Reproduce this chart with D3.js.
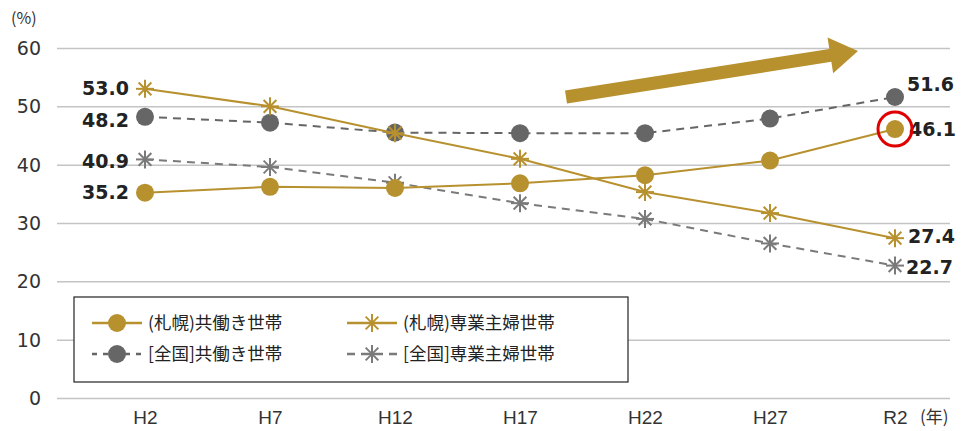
<!DOCTYPE html>
<html>
<head>
<meta charset="utf-8">
<script src="https://cdn.jsdelivr.net/npm/d3@7"></script>
<style>
  body { margin: 0; background: #fff; }
  text { font-family: "Noto Sans CJK JP", "Noto Sans", sans-serif; }
</style>
</head>
<body>
<div id="container"></div>
<script>
/* CONSTANTS AND GLOBALS */
const width = 961;
const height = 431;
const gold = "#b8912f";
const grayDot = "#666666";
const grayStar = "#7a7a7a";

/* DATA */
const years = ["H2", "H7", "H12", "H17", "H22", "H27", "R2"];
const sapporoDual = [35.2, 36.2, 36.0, 36.8, 38.2, 40.7, 46.1];
const sapporoHousewife = [53.0, 50.0, 45.4, 41.0, 35.3, 31.7, 27.4];
const nationDual = [48.2, 47.2, 45.5, 45.4, 45.4, 47.9, 51.6];
const nationHousewife = [40.9, 39.6, 36.9, 33.4, 30.7, 26.5, 22.7];
const yTicks = [0, 10, 20, 30, 40, 50, 60];
const legendNames = ["(札幌)共働き世帯", "(札幌)専業主婦世帯", "[全国]共働き世帯", "[全国]専業主婦世帯"];

const svg = d3.select("#container").append("svg")
  .attr("width", width)
  .attr("height", height);

/* SCALES */
const xScale = d3.scalePoint()
  .domain(years)
  .range([145, 895]);

const yScale = d3.scaleLinear()
  .domain([0, 60])
  .range([398, 48]);

/* GRID + Y AXIS */
const yAxis = d3.axisLeft(yScale)
  .tickValues(yTicks)
  .tickSize(-(950 - 57))
  .tickPadding(16);

svg.append("g")
  .attr("transform", "translate(57,0)")
  .call(yAxis)
  .call(g => g.select(".domain").remove())
  .call(g => g.selectAll(".tick line").attr("stroke", "#c4c4c4").attr("stroke-width", 1.5))
  .call(g => g.selectAll(".tick text")
    .attr("fill", "#333").attr("font-size", 19)
    .style("font-family", "'DejaVu Sans', sans-serif")
    .attr("x", -16).attr("dy", "0.35em"));

svg.append("text")
  .attr("x", 11).attr("y", 24)
  .attr("font-size", 16).attr("fill", "#333")
  .text("(%)");

/* X AXIS */
const xAxis = d3.axisBottom(xScale).tickSize(0).tickPadding(0);
svg.append("g")
  .attr("transform", "translate(0,424)")
  .call(xAxis)
  .call(g => g.select(".domain").remove())
  .call(g => g.selectAll(".tick text")
    .attr("fill", "#333").attr("font-size", 19)
    .style("font-family", "'Liberation Sans', sans-serif")
    .attr("y", 0).attr("dy", 0));

svg.append("text")
  .attr("x", 920).attr("y", 423)
  .attr("font-size", 17).attr("fill", "#333")
  .text("(年)");

/* ARROW */
const ax0 = 566, ay0 = 97, ax1 = 858, ay1 = 51;
const ang = Math.atan2(ay1 - ay0, ax1 - ax0) * 180 / Math.PI;
const alen = Math.hypot(ax1 - ax0, ay1 - ay0);
svg.append("path")
  .attr("transform", `translate(${ax0},${ay0}) rotate(${ang})`)
  .attr("d", `M0,-6.5 L${alen - 28},-6.5 L${alen - 28},-18 L${alen},0 L${alen - 28},18 L${alen - 28},6.5 L0,6.5 Z`)
  .attr("fill", gold);

/* LINES + MARKERS */
const line = d3.line()
  .x((d, i) => xScale(years[i]))
  .y(d => yScale(d));

function star(g, x, y, r, color) {
  for (let k = 0; k < 4; k++) {
    const a = k * Math.PI / 4;
    g.append("line")
      .attr("x1", x - r * Math.sin(a)).attr("y1", y - r * Math.cos(a))
      .attr("x2", x + r * Math.sin(a)).attr("y2", y + r * Math.cos(a))
      .attr("stroke", color).attr("stroke-width", 2);
  }
}

const series = [
  { values: nationDual, color: grayDot, dash: "8,6", marker: "circle" },
  { values: nationHousewife, color: grayStar, dash: "8,6", marker: "star" },
  { values: sapporoDual, color: gold, dash: null, marker: "circle" },
  { values: sapporoHousewife, color: gold, dash: null, marker: "star" }
];

series.forEach(s => {
  svg.append("path")
    .datum(s.values)
    .attr("d", line)
    .attr("fill", "none")
    .attr("stroke", s.color)
    .attr("stroke-width", 2)
    .attr("stroke-dasharray", s.dash);
  const g = svg.append("g");
  s.values.forEach((v, i) => {
    const x = xScale(years[i]), y = yScale(v);
    if (s.marker === "circle") {
      g.append("circle").attr("cx", x).attr("cy", y).attr("r", 9).attr("fill", s.color);
    } else {
      star(g, x, y, 9, s.color);
    }
  });
});

/* VALUE LABELS */
const labelStyle = sel => sel.attr("font-size", 19).attr("font-weight", "bold").attr("fill", "#222")
  .style("font-family", "'DejaVu Sans', sans-serif");
const leftLabels = [
  { v: sapporoHousewife[0], dy: 0 },
  { v: nationDual[0], dy: 4 },
  { v: nationHousewife[0], dy: 2 },
  { v: sapporoDual[0], dy: 0 }
];
leftLabels.forEach(d => {
  svg.append("text")
    .attr("x", xScale(years[0]) - 16).attr("y", yScale(d.v) + d.dy)
    .attr("dy", "0.35em").attr("text-anchor", "end")
    .call(labelStyle).text(d.v.toFixed(1));
});
const last = years.length - 1;
const rightLabels = [
  { v: nationDual[last], dy: -13, dx: 12 },
  { v: sapporoDual[last], dy: 0, dx: 14 },
  { v: sapporoHousewife[last], dy: -2, dx: 13 },
  { v: nationHousewife[last], dy: 2, dx: 11 }
];
rightLabels.forEach(d => {
  svg.append("text")
    .attr("x", xScale(years[last]) + d.dx).attr("y", yScale(d.v) + d.dy)
    .attr("dy", "0.35em")
    .call(labelStyle).text(d.v.toFixed(1));
});

/* RED HIGHLIGHT */
svg.append("circle")
  .attr("cx", xScale(years[last])).attr("cy", yScale(sapporoDual[last]))
  .attr("r", 17).attr("fill", "none")
  .attr("stroke", "#e00000").attr("stroke-width", 3);

/* LEGEND */
const legend = svg.append("g");
legend.append("rect")
  .attr("x", 74).attr("y", 297).attr("width", 554).attr("height", 85)
  .attr("fill", "#fff").attr("stroke", "#222").attr("stroke-width", 1.2);

const legendItems = [
  { name: legendNames[0], color: gold, dash: null, marker: "circle", x: 92, y: 323 },
  { name: legendNames[1], color: gold, dash: null, marker: "star", x: 347, y: 323 },
  { name: legendNames[2], color: grayDot, dash: "5,6", marker: "circle", x: 92, y: 354 },
  { name: legendNames[3], color: grayStar, dash: "8,6", marker: "star", x: 347, y: 354 }
];
legendItems.forEach(d => {
  legend.append("line")
    .attr("x1", d.x).attr("x2", d.x + 50).attr("y1", d.y).attr("y2", d.y)
    .attr("stroke", d.color).attr("stroke-width", 2.5)
    .attr("stroke-dasharray", d.dash);
  if (d.marker === "circle") {
    legend.append("circle").attr("cx", d.x + 25).attr("cy", d.y).attr("r", 9).attr("fill", d.color);
  } else {
    star(legend, d.x + 25, d.y, 9, d.color);
  }
  legend.append("text")
    .attr("x", d.x + 56).attr("y", d.y).attr("dy", "0.35em")
    .attr("font-size", 17.5).attr("fill", "#222")
    .text(d.name);
});
</script>
</body>
</html>
